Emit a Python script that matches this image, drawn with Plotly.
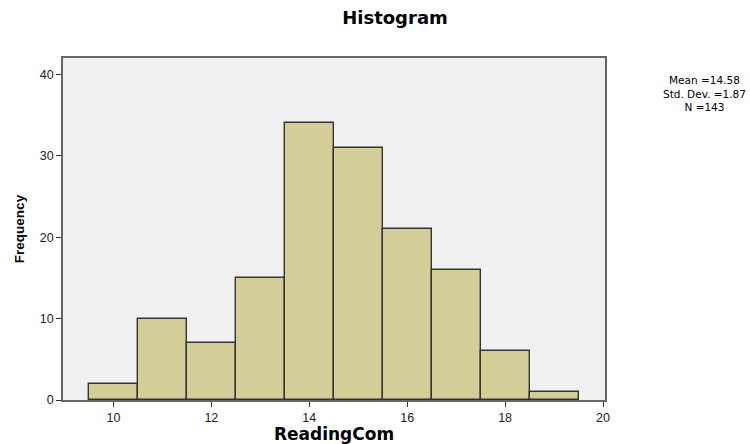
import plotly.graph_objects as go

bin_centers = [10, 11, 12, 13, 14, 15, 16, 17, 18, 19]
frequencies = [2, 10, 7, 15, 34, 31, 21, 16, 6, 1]
x_ticks = [10, 12, 14, 16, 18, 20]
y_ticks = [0, 10, 20, 30, 40]
stats_lines = ["Mean =14.58", "Std. Dev. =1.87", "N =143"]

font = "Liberation Sans, Arial, sans-serif"
wide = "DejaVu Sans, sans-serif"

fig = go.Figure()
fig.add_trace(go.Bar(
    x=bin_centers, y=frequencies, width=1,
    marker=dict(color="#d3ce97", line=dict(color="#333333", width=1.4)),
    showlegend=False, hoverinfo="skip",
))

fig.update_layout(
    width=750, height=444,
    margin=dict(l=63, r=145, t=58, b=44),
    paper_bgcolor="white",
    plot_bgcolor="#f0f0f0",
    title=dict(text="<b>Histogram</b>", x=395 / 750, xanchor="center", y=1 - 18 / 444, yanchor="middle",
               xref="container", yref="container", font=dict(family=wide, size=18, color="black")),
    xaxis=dict(range=[8.97, 20.04], tickvals=x_ticks, ticks="outside", ticklen=5,
               tickcolor="#333", showgrid=False, zeroline=False, automargin=False,
               showline=True, linecolor="#666", linewidth=1.5, mirror=True,
               tickfont=dict(family=font, size=12.5, color="#222"),
               title=dict(text="<b>ReadingCom</b>", font=dict(family=wide, size=17, color="black"), standoff=4)),
    yaxis=dict(range=[0, 42], tickvals=y_ticks, ticks="outside", ticklen=5,
               tickcolor="#333", showgrid=False, zeroline=False, automargin=False,
               showline=True, linecolor="#666", linewidth=1.5, mirror=True,
               tickfont=dict(family=font, size=12.5, color="#222"),
               title=dict(text="<b>Frequency</b>", font=dict(family=font, size=13.5, color="black"), standoff=12)),
    bargap=0,
)

fig.add_annotation(
    text="<br>".join(stats_lines), xref="paper", yref="paper",
    x=(704 - 63) / 542, y=(400 - 93) / 342,
    xanchor="center", yanchor="middle", showarrow=False, align="center",
    font=dict(family=wide, size=10.5, color="black"),
)

fig.write_html("out.html", config={"displayModeBar": False},
               post_script="document.body.style.margin='0';document.body.style.padding='0';")
